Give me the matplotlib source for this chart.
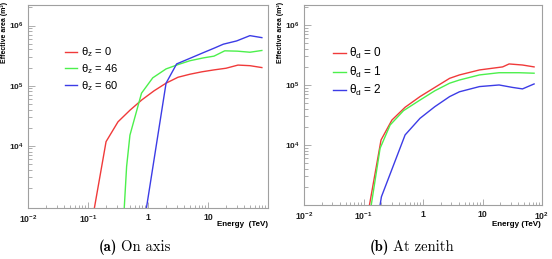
import matplotlib
matplotlib.use("Agg")
import matplotlib.pyplot as plt
from matplotlib.ticker import FixedLocator, NullFormatter

plt.rcParams["font.family"] = ["Liberation Sans", "DejaVu Sans"]
plt.rcParams["mathtext.fontset"] = "custom"
plt.rcParams["mathtext.rm"] = "Liberation Sans"
plt.rcParams["mathtext.it"] = "Liberation Sans:italic"
plt.rcParams["mathtext.bf"] = "Liberation Sans:bold"

# (a) on axis, zenith angle theta_z
e_z0 = [0.126, 0.2, 0.316, 0.5, 0.79, 1.26, 2.0, 3.16, 5.0, 7.9, 12.6, 20, 31.6, 50, 79]
a_z0 = [850, 1.17e4, 2.5e4, 3.9e4, 5.8e4, 8.2e4, 1.1e5, 1.38e5, 1.55e5, 1.7e5, 1.83e5, 1.95e5, 2.2e5, 2.15e5, 2.0e5]
e_z46 = [0.40, 0.44, 0.5, 0.78, 1.2, 2.0, 3.2, 5.0, 8.4, 12.6, 19, 31, 50, 79]
a_z46 = [850, 4.5e3, 1.5e4, 7.5e4, 1.35e5, 1.9e5, 2.25e5, 2.6e5, 2.9e5, 3.1e5, 3.8e5, 3.75e5, 3.6e5, 3.85e5]
e_z60 = [0.93, 2.0, 3.0, 5.0, 8.4, 12.6, 18, 30, 50, 79]
a_z60 = [850, 1.1e5, 2.3e5, 2.85e5, 3.55e5, 4.2e5, 4.9e5, 5.55e5, 6.8e5, 6.3e5]

# (b) at zenith, off-axis angle theta_d
e_d0 = [0.126, 0.197, 0.30, 0.5, 0.89, 1.58, 2.8, 4.1, 8.9, 21.8, 28, 47, 73.6]
a_d0 = [1000, 1.21e4, 2.6e4, 4.25e4, 6.4e4, 9.1e4, 1.29e5, 1.47e5, 1.78e5, 2.0e5, 2.24e5, 2.15e5, 2.0e5]
e_d1 = [0.135, 0.19, 0.28, 0.47, 0.89, 1.58, 2.8, 4.1, 8.9, 19, 41, 73.6]
a_d1 = [1000, 8.8e3, 2.15e4, 3.73e4, 5.6e4, 8.0e4, 1.07e5, 1.21e5, 1.47e5, 1.6e5, 1.6e5, 1.57e5]
e_d2 = [0.19, 0.2, 0.5, 0.89, 1.58, 2.8, 4.1, 8.9, 19, 32, 47, 73.6]
a_d2 = [1000, 1.37e3, 1.47e4, 2.78e4, 4.35e4, 6.4e4, 7.7e4, 9.4e4, 1.0e5, 9.1e4, 8.6e4, 1.04e5]

labels_z = ["0", "46", "60"]
labels_d = ["0", "1", "2"]
colors = ["#f03a3a", "#4cf04c", "#3c3ce6"]

x_major = [0.01, 0.1, 1, 10, 100]
x_labels_a = ["10$^{\\mathregular{-2}}$", "10$^{\\mathregular{-1}}$", "1", "10", ""]
x_labels_b = ["10$^{\\mathregular{-2}}$", "10$^{\\mathregular{-1}}$", "1", "10", "10$^{\\mathregular{2}}$"]
y_major = [1e4, 1e5, 1e6]
y_labels = ["10$^{\\mathregular{4}}$", "10$^{\\mathregular{5}}$", "10$^{\\mathregular{6}}$"]

W, H = 552, 259
fig = plt.figure(figsize=(W / 100, H / 100), dpi=100)


def px_box(l, t, r, b):
    return [l / W, 1 - b / H, (r - l) / W, (b - t) / H]


def style_axes(ax, xlabels, ylim):
    ax.set_xscale("log")
    ax.set_yscale("log")
    ax.set_xlim(0.01, 100)
    ax.set_ylim(*ylim)
    frame = "#a0a0a0"
    for s in ax.spines.values():
        s.set_color(frame)
        s.set_linewidth(0.8)
    ax.xaxis.set_major_locator(FixedLocator(x_major))
    ax.xaxis.set_minor_locator(FixedLocator(
        [m * d for d in [0.01, 0.1, 1, 10] for m in range(2, 10)]))
    ax.yaxis.set_major_locator(FixedLocator(y_major))
    ax.yaxis.set_minor_locator(FixedLocator(
        [m * d for d in [100, 1e3, 1e4, 1e5, 1e6] for m in range(2, 10)]))
    ax.xaxis.set_minor_formatter(NullFormatter())
    ax.yaxis.set_minor_formatter(NullFormatter())
    ax.set_xticklabels(xlabels, fontsize=6.3, fontweight="bold", color="#202020")
    ax.set_yticklabels(y_labels, fontsize=6.0, fontweight="bold", color="#202020")
    ax.tick_params(axis="x", which="major", direction="in", length=4.3,
                   width=0.6, color=frame, pad=3.5)
    ax.tick_params(axis="x", which="minor", direction="in", length=2.2,
                   width=0.6, color=frame)
    ax.tick_params(axis="y", which="major", direction="in", length=5,
                   width=0.6, color=frame, pad=3.0)
    ax.tick_params(axis="y", which="minor", direction="in", length=2.8,
                   width=0.6, color=frame)


# panel (a)
ax1 = fig.add_axes(px_box(28, 5, 268, 208))
for e, a, c, lab in zip([e_z0, e_z46, e_z60], [a_z0, a_z46, a_z60], colors, labels_z):
    ax1.plot(e, a, color=c, lw=1.0, label="θ$_\\mathregular{z}$ = " + lab)
style_axes(ax1, x_labels_a, (920, 2.2e6))
ax1.legend(loc="upper left", bbox_to_anchor=(0.154, 0.80), frameon=False,
           fontsize=8, handlelength=1.1, handletextpad=0.3,
           labelspacing=0.25, borderpad=0, borderaxespad=0)

# panel (b)
ax2 = fig.add_axes(px_box(304, 5, 542, 205))
for e, a, c, lab in zip([e_d0, e_d1, e_d2], [a_d0, a_d1, a_d2], colors, labels_d):
    ax2.plot(e, a, color=c, lw=1.0, label="θ$_\\mathregular{d}$ = " + lab)
style_axes(ax2, x_labels_b, (1000, 2.15e6))
ax2.legend(loc="upper left", bbox_to_anchor=(0.122, 0.795), frameon=False,
           fontsize=8.5, handlelength=1.1, handletextpad=0.25,
           labelspacing=0.3, borderpad=0, borderaxespad=0)

# ROOT-style axis titles
ylab = "Effective area (m²)"
fig.text(1 / W, 1 - 2 / H, ylab, rotation=90, ha="left", va="top",
         fontsize=5.0, fontweight="bold")
fig.text(277 / W, 1 - 2 / H, ylab, rotation=90, ha="left", va="top",
         fontsize=5.0, fontweight="bold")
fig.text(268 / W, 1 - 224 / H, "Energy  (TeV)", ha="right", va="center",
         fontsize=5.8, fontweight="bold")
fig.text(541 / W, 1 - 224 / H, "Energy (TeV)", ha="right", va="center",
         fontsize=5.8, fontweight="bold")

# sub-captions
fig.text(117 / W, 1 - 247 / H, "(a)", ha="right", va="center",
         family="cmb10", fontsize=10.5)
fig.text(121 / W, 1 - 247 / H, "On axis", ha="left", va="center",
         family="cmr10", fontsize=10.5)
fig.text(389 / W, 1 - 247 / H, "(b)", ha="right", va="center",
         family="cmb10", fontsize=10.5)
fig.text(393 / W, 1 - 247 / H, "At zenith", ha="left", va="center",
         family="cmr10", fontsize=10.5)

fig.savefig("out.png", dpi=100)
